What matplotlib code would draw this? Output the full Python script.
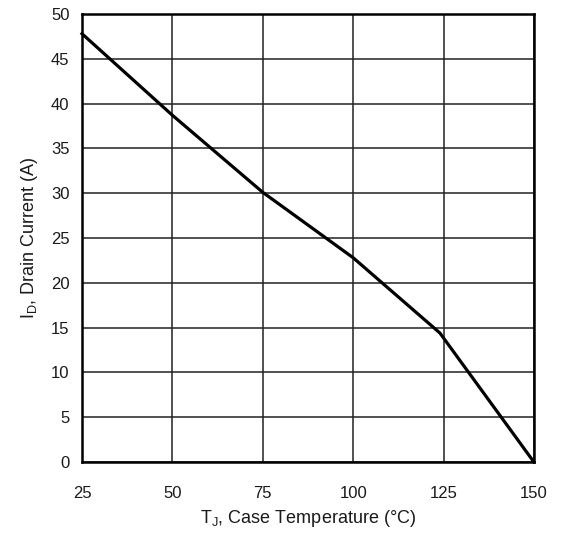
import matplotlib
matplotlib.use("Agg")
import matplotlib.pyplot as plt

# --- data ---
temp_c = [25, 50, 75, 100, 124, 150]
drain_a = [47.8, 38.7, 30.1, 22.8, 14.4, 0]

x_ticks = [25, 50, 75, 100, 125, 150]
y_ticks = [0, 5, 10, 15, 20, 25, 30, 35, 40, 45, 50]

plt.rcParams['font.family'] = ['Liberation Sans', 'DejaVu Sans']
plt.rcParams['mathtext.fontset'] = 'custom'
plt.rcParams['mathtext.rm'] = 'Liberation Sans'

fig = plt.figure(figsize=(5.67, 5.34), dpi=100)
ax = fig.add_axes([0.1446, 0.1348, 0.797, 0.839])

ax.plot(temp_c, drain_a, color='black', linewidth=2.3, solid_joinstyle='miter',
        clip_on=False, zorder=3)

ax.set_xlim(25, 150)
ax.set_ylim(0, 50)
ax.set_xticks(x_ticks)
ax.set_yticks(y_ticks)
ax.tick_params(axis='both', length=0, labelsize=12, colors='#1a1a1a')
ax.tick_params(axis='x', pad=17)
ax.tick_params(axis='y', pad=9)

ax.grid(True, color='#222222', linewidth=1.1)
ax.set_axisbelow(True)
for side in ax.spines.values():
    side.set_linewidth(1.8)
    side.set_color('black')

ax.set_xlabel(r'T$_{\mathregular{J}}$, Case Temperature (°C)', fontsize=13,
              color='#1a1a1a', labelpad=5)
ax.set_ylabel(r'I$_{\mathregular{D}}$, Drain Current (A)', fontsize=13,
              color='#1a1a1a', labelpad=8)

fig.savefig('out.png', dpi=100)
